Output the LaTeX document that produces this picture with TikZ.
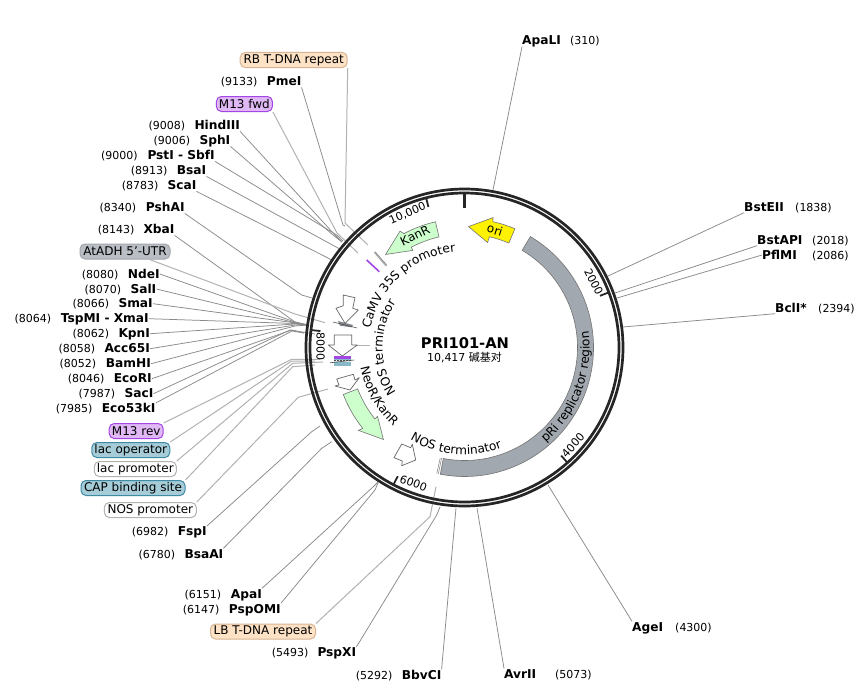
\documentclass[tikz,border=0pt]{standalone}
\usepackage{fontspec}
\setmainfont{DejaVu Sans}
\newfontfamily\cjkf{Noto Sans CJK SC}
\usetikzlibrary{decorations.text}
\definecolor{lg}{HTML}{8A8A8A}
\definecolor{fg}{HTML}{B2B2B2}
\definecolor{ringc}{HTML}{262626}
\definecolor{graya}{HTML}{A2A8AF}
\definecolor{peach}{HTML}{FDE2C6}
\definecolor{peachd}{HTML}{D8B492}
\definecolor{purp}{HTML}{DFB8F4}
\definecolor{purpd}{HTML}{A445E6}
\definecolor{tealf}{HTML}{A6CCD8}
\definecolor{teald}{HTML}{3F8BA6}
\definecolor{slatef}{HTML}{B9BDC4}
\definecolor{slated}{HTML}{A2A6AD}
\definecolor{mint}{HTML}{CCFFCC}
\tikzset{
 numt/.style={inner sep=0pt,anchor=west,text height=9.5pt,text depth=1.5pt,font=\fontsize{11}{12}\selectfont},
 namet/.style={inner sep=0pt,anchor=west,text height=9.5pt,text depth=1.5pt,font=\fontsize{12.2}{13}\selectfont\bfseries},
 pill/.style={rounded corners=5pt,inner sep=0pt,minimum height=15pt,font=\fontsize{12}{13}\selectfont,line width=1pt},
 rbp/.style={pill,fill=peach,draw=peachd},
 m13p/.style={pill,fill=purp,draw=purpd},
 tealp/.style={pill,fill=tealf,draw=teald},
 slatep/.style={pill,fill=slatef,draw=slated},
 whitep/.style={pill,fill=white,draw=fg},
 lead/.style={draw=lg,line width=0.75pt},
 flead/.style={draw=fg,line width=1pt},
 ringl/.style={draw=ringc,line width=2.7pt},
 tick/.style={draw=ringc,line width=1.8pt},
 wharrow/.style={fill=white,draw=black!60,line width=0.7pt,line join=round},
 ticklab/.style={inner sep=0pt,font=\fontsize{11}{12}\selectfont},
 arct/.style={decorate,decoration={text along path,text align=center,text={|\fontsize{12.2}{13}\selectfont|#1}}},
}
\newcommand\lab[6]{\node[numt] (#1n) at (#2,#4) {(#5)};\node[namet] (#1) at (#3,#4) {#6};}
\newcommand\leader[5][lead]{\coordinate (#2k) at (#4);\coordinate (#2e) at (#5);\draw[#1] (#2.#3) -- (#2k) -- (#2e);}
\begin{document}
\begin{tikzpicture}[x=1pt,y=-1pt]
\useasboundingbox (0,0) rectangle (864,693);
\fill[white] (0,0) rectangle (864,693);
% labels, left side
\node[rbp,minimum width=107pt] (RB) at (293.7,60) {RB T-DNA repeat};
\lab{PmeI}{220.7}{266.7}{81.7}{9133}{PmeI}
\node[m13p,minimum width=56pt] (Mfwd) at (244.4,104) {M13 fwd};
\lab{HindIII}{148.3}{194.3}{125.7}{9008}{HindIII}
\lab{SphI}{153.3}{199.3}{140.7}{9006}{SphI}
\lab{PstI}{101}{147.3}{155.7}{9000}{PstI - SbfI}
\lab{BsaI}{130.7}{176.7}{170.7}{8913}{BsaI}
\lab{ScaI}{121.7}{167.3}{185.7}{8783}{ScaI}
\lab{PshAI}{99.3}{145.7}{207.7}{8340}{PshAI}
\lab{XbaI}{97.7}{143.3}{229.7}{8143}{XbaI}
\node[slatep,minimum width=90pt] (AtADH) at (125,251.5) {AtADH 5'-UTR};
\lab{NdeI}{81.7}{127.7}{274}{8080}{NdeI}
\lab{SalI}{84.3}{130.3}{289}{8070}{SalI}
\lab{SmaI}{72.3}{118.3}{303.7}{8066}{SmaI}
\lab{TspMI}{14.3}{60.7}{318.7}{8064}{TspMI - XmaI}
\lab{KpnI}{72.3}{118.3}{333.7}{8062}{KpnI}
\lab{Acc}{58.3}{104.3}{348.7}{8058}{Acc65I}
\lab{BamHI}{59.3}{105.7}{363.7}{8052}{BamHI}
\lab{EcoRI}{67.7}{113.7}{378.7}{8046}{EcoRI}
\lab{SacI}{78.3}{124.3}{393.7}{7987}{SacI}
\lab{Eco}{55.7}{101.7}{408.7}{7985}{Eco53kI}
\node[m13p,minimum width=54pt] (Mrev) at (136.2,431) {M13 rev};
\node[tealp,minimum width=78pt] (lacO) at (130.8,450) {lac operator};
\node[whitep,minimum width=82pt] (lacP) at (135.3,469) {lac promoter};
\node[tealp,minimum width=104pt] (CAP) at (133,488) {CAP binding site};
\node[whitep,minimum width=92pt] (NOSp) at (150.3,510) {NOS promoter};
\lab{FspI}{131.7}{177.7}{531.7}{6982}{FspI}
\lab{BsaAI}{138.3}{184.3}{554}{6780}{BsaAI}
\lab{ApaI}{184.3}{230.7}{594}{6151}{ApaI}
\lab{PspOMI}{182.7}{228.7}{609}{6147}{PspOMI}
\node[rbp,minimum width=105pt] (LB) at (263,631.5) {LB T-DNA repeat};
\lab{PspXI}{271.7}{317.3}{652.7}{5493}{PspXI}
\lab{BbvCI}{355.7}{401.7}{675}{5292}{BbvCI}
% labels, right side
\node[namet] (AvrII) at (504,674) {AvrII};
\node[numt] (AvrIIn) at (555,674) {(5073)};
\node[namet] (AgeI) at (632,627) {AgeI};
\node[numt] (AgeIn) at (675,627) {(4300)};
\node[namet] (ApaLI) at (522,41) {ApaLI};
\node[numt] (ApaLIn) at (570,41) {(310)};
\node[namet] (BstEII) at (744,207) {BstEII};
\node[numt] (BstEIIn) at (795,207) {(1838)};
\node[namet] (BstAPI) at (757,240) {BstAPI};
\node[numt] (BstAPIn) at (812,240) {(2018)};
\node[namet] (PflMI) at (762,255) {PflMI};
\node[numt] (PflMIn) at (812,255) {(2086)};
\node[namet] (BclI) at (775,308) {BclI*};
\node[numt] (BclIn) at (818,308) {(2394)};
% leaders
\leader[flead]{RB}{south east}{345,223}{368,245}
\leader{PmeI}{south east}{343,225}{345,226}
\leader[flead]{Mfwd}{south east}{337,233}{358,253}
\leader{HindIII}{south east}{335,235}{342,242}
\leader{SphI}{south east}{333,235}{342,242}
\leader{PstI}{south east}{336.7,235}{343,241}
\leader{BsaI}{south east}{338,248}{340,249}
\leader{ScaI}{south east}{328,258}{331,260}
\leader{PshAI}{south east}{301.7,295}{312,298}
\leader{XbaI}{south east}{295,322}{308,325}
\leader[flead]{AtADH}{-18}{295,314}{325,322.7}
\leader{NdeI}{east}{295,322}{308,325}
\leader{SalI}{east}{296.7,323}{308,325}
\leader{SmaI}{east}{296,323}{308,325}
\leader{TspMI}{east}{295,323.5}{308,325}
\leader{KpnI}{east}{295,324}{308,325}
\leader{Acc}{east}{295,325}{308,325}
\leader{BamHI}{east}{295,326}{308,325}
\leader{EcoRI}{east}{291.7,330}{304,333}
\leader{SacI}{east}{290,330}{315,334}
\leader{Eco}{north east}{292,331}{304,333}
\leader[flead]{Mrev}{north east}{291.7,359.3}{320,359.3}
\leader[flead]{lacO}{north east}{291.7,361}{315,361}
\leader[flead]{lacP}{north east}{292.7,363.3}{323,362}
\leader[flead]{CAP}{north east}{292.7,366.7}{315,365}
\leader[flead]{NOSp}{north east}{298.3,397.3}{328,389}
\leader{FspI}{north east}{311.7,431.7}{320,426}
\leader{BsaAI}{north east}{321.7,448.3}{331.7,441.7}
\leader{ApaI}{north east}{373.3,486.7}{378,482}
\leader{PspOMI}{north east}{375,490}{378,483}
\leader[flead]{LB}{north east}{430,516.7}{436,486.7}
\leader{PspXI}{north east}{436.7,515}{440,507}
\leader{BbvCI}{north east}{456,508}{456,508}
\leader{AvrII}{north west}{477,508}{477,508}
\leader{AgeI}{north west}{548,485}{548,485}
\leader{ApaLI}{south west}{493,190}{493,190}
\leader{BstEII}{south west}{608,276}{608,276}
\leader{BstAPI}{south west}{615,293}{615,293}
\leader{PflMI}{west}{617,298}{617,298}
\leader{BclI}{south west}{623,327}{623,327}
% small features
\draw[fg,line width=1.2pt] (374.3,252.3) -- (386,266);
\draw[black!55,line width=0.6pt] (375,251.7) -- (387,265.5);
\draw[purpd,line width=1.6pt] (366.7,260) -- (379.3,271.7);
\draw[fg,line width=1pt] (357,345) -- (370,345);
\fill[graya!80!black] (338,321) -- (353,325) -- (351.7,327.3) -- (340,325.7) -- cycle;
\draw[black!70,line width=0.6pt] (333,322) -- (357,328);
\fill[purpd] (333.5,356) rectangle (351,359);
\fill[tealf!70!teald] (334,359) rectangle (351,365.5);
\fill[white!70!tealf] (334,359.5) rectangle (351,362);
\draw[black!70,line width=0.7pt,dash pattern=on 1.5pt off 1.5pt] (334,360.5) -- (351,360.5);
\draw[black!70,line width=0.6pt] (330,362.8) -- (354,360);
% white arrows
\draw[wharrow] (343.3,295) -- (355,297.7) -- (352.7,308.3) -- (358.3,310) -- (345,323.3) -- (336,308.3) -- (343.3,305.7) -- cycle;
\draw[wharrow] (334.3,335) -- (351.7,335) -- (351.7,345) -- (357.3,345) -- (342.3,356) -- (328.3,345) -- (334.3,345) -- cycle;
\draw[wharrow] (336.7,379) -- (353.3,374.3) -- (355,380) -- (359.3,377.7) -- (350,390) -- (335,386) -- (339,385) -- cycle;
\draw[wharrow] (394,457.7) -- (401.7,444) -- (410.7,447.7) -- (412.3,444.3) -- (415.7,460) -- (401.7,465.7) -- (402.3,461) -- cycle;
% ring and polar features
\begin{scope}[shift={(464.5,347.5)}]
\draw[ringl] (0,0) circle[radius=158.5pt];
\draw[ringl] (0,0) circle[radius=154.5pt];
\draw[draw=ringc,line width=2.7pt] (90:154pt) -- (90:140pt);
\draw[tick] (20.9:154pt) -- (20.9:145pt);
\draw[tick] (-48.2:154pt) -- (-48.2:145pt);
\draw[tick] (-117.4:154pt) -- (-117.4:145pt);
\draw[tick] (173.5:154pt) -- (173.5:145pt);
\draw[tick] (104.4:154pt) -- (104.4:145pt);
\node[ticklab,rotate=-63] (t2000) at (27:145pt) {2000};
\node[ticklab,rotate=48] (t4000) at (-42:146pt) {4000};
\node[ticklab,rotate=-20.6] (t6000) at (-110.6:145pt) {6000};
\node[ticklab,rotate=-90] (t8000) at (179.6:144pt) {8000};
\node[ticklab,rotate=23] (t10000) at (113:145.6pt) {10,000};
% pRi
\draw[fill=graya,draw=black!55,line width=0.6pt] (59.3:129pt) arc[start angle=59.3,end angle=-100.8,radius=129pt] -- (-100.8:113pt) arc[start angle=-100.8,end angle=59.3,radius=113pt] -- cycle;
\draw[black!50,line width=0.5pt] (-101.7:113pt) -- (-101.7:129pt);
\draw[black!50,line width=0.5pt] (-102.4:113pt) -- (-102.4:129pt);
% ori
\draw[fill=yellow,draw=black!55,line width=0.6pt] (67:129pt) arc[start angle=67,end angle=77.3,radius=129pt] -- (77.6:133pt) -- (88.1:121pt) -- (77.6:107.5pt) -- (77.3:113.5pt) arc[start angle=77.3,end angle=67,radius=113.5pt] -- cycle;
% KanR
\draw[fill=mint,draw=black!55,line width=0.6pt] (103:129pt) arc[start angle=103,end angle=118,radius=129pt] -- (119:133pt) -- (130.3:122pt) -- (118:110pt) -- (118:113.5pt) arc[start angle=118,end angle=103,radius=113.5pt] -- cycle;
% NeoR
\draw[fill=mint,draw=black!55,line width=0.6pt] (-158.8:130pt) arc[start angle=-158.8,end angle=-141.5,radius=130pt] -- (-142:134.6pt) -- (-131.4:122.6pt) -- (-141.6:111pt) -- (-141.5:114.6pt) arc[start angle=-141.5,end angle=-158.8,radius=114.6pt] -- cycle;
% curved text
\path[arct={pRi replicator region}] (-81:125pt) arc[start angle=-81,end angle=39,radius=125pt];
\path[arct={CaMV 35S promoter}] (182:96pt) arc[start angle=182,end angle=82,radius=96pt];
\path[arct={NOS terminator}] (230:82pt) arc[start angle=230,end angle=130,radius=82pt];
\path[arct={NeoR/KanR}] (-180.5:106pt) arc[start angle=-180.5,end angle=-120.5,radius=106pt];
\path[arct={NOS terminator}] (-130:107pt) arc[start angle=-130,end angle=-60,radius=107pt];
\end{scope}
\node[inner sep=0pt,rotate=-17,font=\fontsize{12}{13}\selectfont] (oritxt) at (495,230) {ori};
\node[inner sep=0pt,rotate=26,font=\fontsize{12}{13}\selectfont] (kantxt) at (415,235.5) {KanR};
\node[inner sep=0pt,font=\fontsize{14.7}{16}\selectfont\bfseries] (title) at (465,343) {PRI101-AN};
\node[inner sep=0pt,font=\fontsize{11}{12}\selectfont] (size) at (464.5,358) {10,417 {\cjkf 碱基对}};
\end{tikzpicture}
\end{document}
